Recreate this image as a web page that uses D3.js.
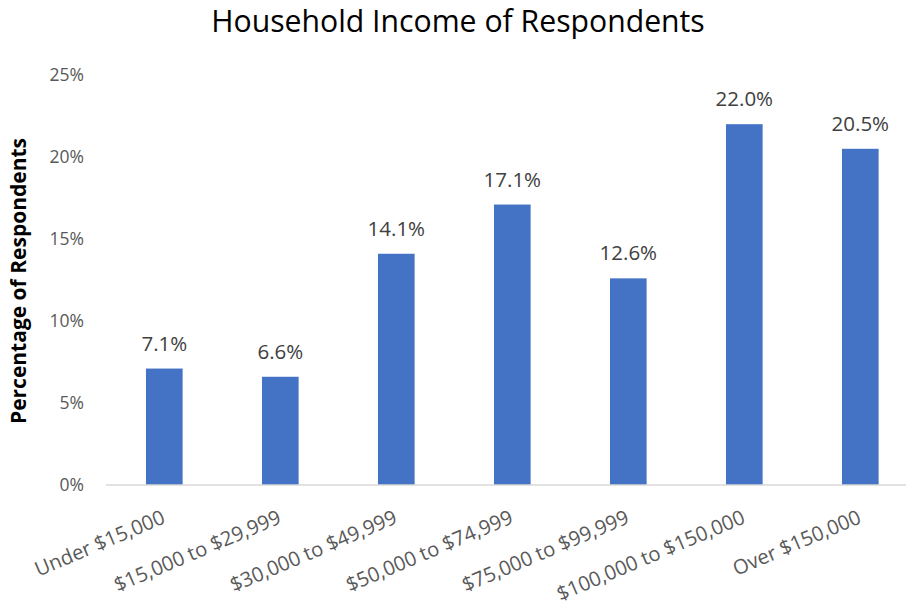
<!DOCTYPE html>
<html><head><meta charset="utf-8">
<script src="https://cdn.jsdelivr.net/npm/d3@7"></script>
<style>body{margin:0;background:#fff}svg{display:block}</style>
</head><body>
<script>
const categories = ["Under $15,000","$15,000 to $29,999","$30,000 to $49,999","$50,000 to $74,999","$75,000 to $99,999","$100,000 to $150,000","Over $150,000"];
const values = [7.1, 6.6, 14.1, 17.1, 12.6, 22.0, 20.5];
const yTicks = [0, 5, 10, 15, 20, 25];
const title = "Household Income of Respondents";
const yTitle = "Percentage of Respondents";

const W = 906, H = 607;
const font = "'Open Sans', 'Noto Sans', sans-serif";
const svg = d3.select("body").append("svg").attr("width", W).attr("height", H)
  .style("font-family", font);

const x = d3.scaleBand().domain(categories).range([106.3, 918.3]).paddingInner(0.684).paddingOuter(0.342);
const y = d3.scaleLinear().domain([0, 25]).range([485, 75]);

svg.append("text").attr("x", 458).attr("y", 32).attr("text-anchor", "middle")
  .attr("font-size", 30.2).attr("fill", "#000").text(title);

svg.append("text").attr("transform", "translate(26,281) rotate(-90)")
  .attr("text-anchor", "middle").attr("font-size", 21).attr("font-weight", "bold")
  .attr("fill", "#000").text(yTitle);

const yAxis = d3.axisLeft(y).tickValues(yTicks).tickSize(0).tickPadding(0).tickFormat(d => d + "%");
const gy = svg.append("g").attr("transform", "translate(84,0)").call(yAxis);
gy.select(".domain").remove();
gy.selectAll("text").attr("font-size", 17.5).attr("fill", "#595959").attr("font-family", font);

svg.selectAll("rect.bar").data(values).join("rect").attr("class", "bar")
  .attr("x", (d, i) => x(categories[i])).attr("width", x.bandwidth())
  .attr("y", d => y(d)).attr("height", d => y(0) - y(d)).attr("fill", "#4472C4");

svg.selectAll("text.lbl").data(values).join("text").attr("class", "lbl")
  .attr("x", (d, i) => x(categories[i]) + x.bandwidth() / 2).attr("y", d => y(d) - 18)
  .attr("text-anchor", "middle").attr("font-size", 20.5).attr("fill", "#404040")
  .text(d => d.toFixed(1) + "%");

const xAxis = d3.axisBottom(x).tickSize(0).tickPadding(0);
const gx = svg.append("g").attr("transform", "translate(0,485)").call(xAxis);
gx.select(".domain").remove();
gx.selectAll("text").attr("font-size", 20.2).attr("fill", "#595959").attr("font-family", font)
  .attr("text-anchor", "end").attr("dy", 0).attr("y", 0)
  .attr("transform", "translate(2,37.5) rotate(-23)");

svg.append("line").attr("x1", 106).attr("x2", 906).attr("y1", 485).attr("y2", 485)
  .attr("stroke", "#d9d9d9").attr("stroke-width", 1.5);
</script>
</body></html>
